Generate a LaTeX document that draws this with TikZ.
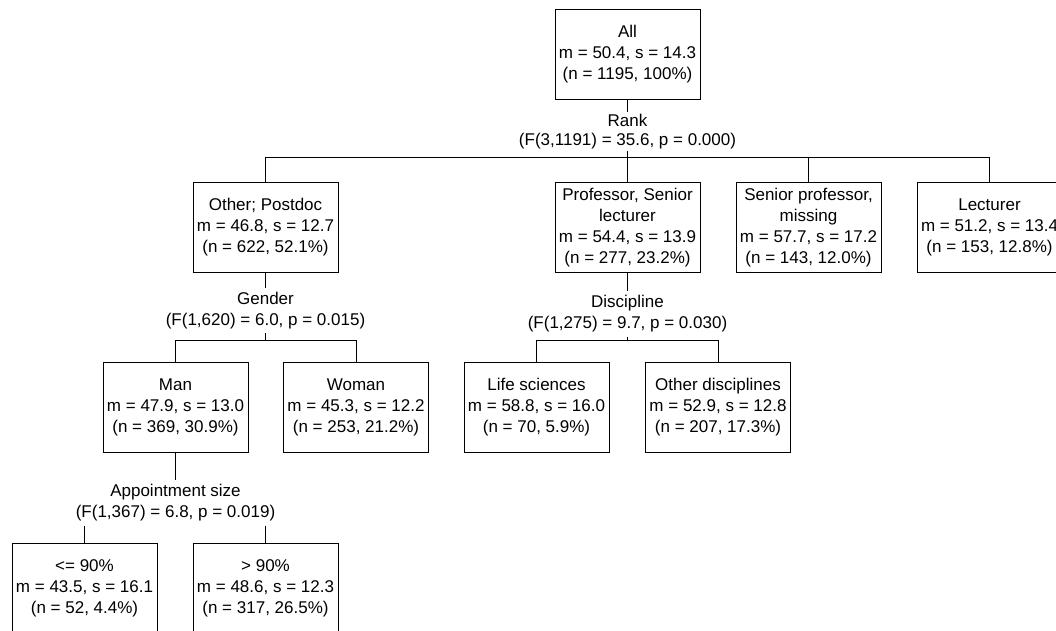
\documentclass[tikz,border=0pt]{standalone}
\usepackage{fontspec}
\setmainfont{Liberation Sans}
\usepackage{tikz}
\usetikzlibrary{calc, positioning}

\begin{document}
\begin{tikzpicture}[x=1pt, y=-1pt, line width=1pt,
    box/.style={draw, rectangle, minimum width=145pt, minimum height=90pt, align=center, inner sep=0pt, font=\fontsize{17}{21}\selectfont},
    split/.style={align=center, inner sep=4pt, font=\fontsize{17}{21}\selectfont}]
                        \useasboundingbox (0, 0) rectangle (1056, 630);

                        \node[box] (all) at (627.5, 54.5) {All\\m = 50.4, s = 14.3\\(n = 1195, 100\%)};
                        \node[split, inner sep=2pt, font=\fontsize{17}{19}\selectfont] (rank) at (627.5, 131.5) {Rank\\(F(3,1191) = 35.6, p = 0.000)};
                        \coordinate (rankbus) at (627.5, 157.5);

                        \node[box] (postdoc) at (265.5, 227.5) {Other; Postdoc\\m = 46.8, s = 12.7\\(n = 622, 52.1\%)};
                        \node[box] (prof) at (627.5, 227.5) {Professor, Senior\\lecturer\\m = 54.4, s = 13.9\\(n = 277, 23.2\%)};
                        \node[box] (senior) at (808.5, 227.5) {Senior professor,\\missing\\m = 57.7, s = 17.2\\(n = 143, 12.0\%)};
                        \node[box] (lecturer) at (989.5, 227.5) {Lecturer\\m = 51.2, s = 13.4\\(n = 153, 12.8\%)};

                        \node[split] (gender) at (265.5, 310.5) {Gender\\(F(1,620) = 6.0, p = 0.015)};
                        \coordinate (genderbus) at (265.5, 340.5);
                        \node[split] (discipline) at (627.5, 314) {Discipline\\(F(1,275) = 9.7, p = 0.030)};
                        \coordinate (disciplinebus) at (627.5, 340.5);

                        \node[box] (man) at (175.5, 407.5) {Man\\m = 47.9, s = 13.0\\(n = 369, 30.9\%)};
                        \node[box] (woman) at (356, 407.5) {Woman\\m = 45.3, s = 12.2\\(n = 253, 21.2\%)};
                        \node[box] (life) at (536.5, 407.5) {Life sciences\\m = 58.8, s = 16.0\\(n = 70, 5.9\%)};
                        \node[box] (otherdisc) at (718, 407.5) {Other disciplines\\m = 52.9, s = 12.8\\(n = 207, 17.3\%)};

                        \node[split] (appointment) at (175.5, 503) {Appointment size\\(F(1,367) = 6.8, p = 0.019)};
                        \coordinate (appointmentbus) at (175.5, 526);

                        \node[box] (le90) at (84.5, 588.5) {<= 90\%\\m = 43.5, s = 16.1\\(n = 52, 4.4\%)};
                        \node[box] (gt90) at (265.5, 588.5) {> 90\%\\m = 48.6, s = 12.3\\(n = 317, 26.5\%)};

                        % rank
                        \draw
                        (all) -- (rank)
                        (rank.south) -- (rankbus)
                        (postdoc.north) |- (rankbus) -| (lecturer.north);
                        \foreach \n in {prof, senior} {
                            \draw (\n.north) -- (\n.north |- rankbus);
                        }

                        % gender, discipline
                        \draw
                        (postdoc) -- (gender)
                        (gender.south) -- (genderbus)
                        (man.north) |- (genderbus) -| (woman.north)
                        (prof) -- (discipline)
                        (discipline.south) -- (disciplinebus)
                        (life.north) |- (disciplinebus) -| (otherdisc.north);

                        % appointment size
                        \draw (man) -- (appointment);
                        \foreach \n in {le90, gt90} {
                            \draw (\n.north) -- (\n.north |- appointmentbus);
                        }
                    \end{tikzpicture}
\end{document}
